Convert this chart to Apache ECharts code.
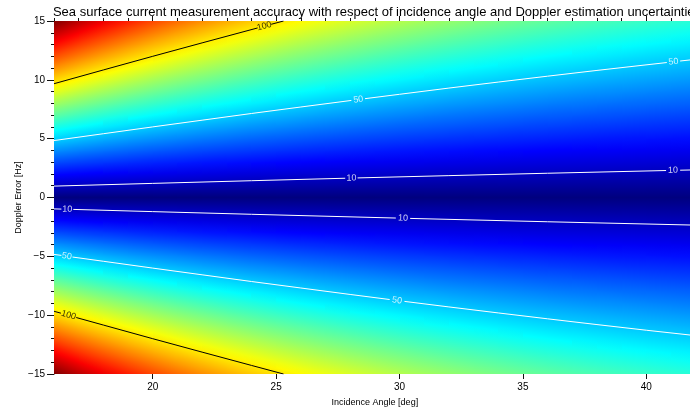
<!DOCTYPE html>
<html><head><meta charset="utf-8">
<script src="https://cdn.jsdelivr.net/npm/echarts@6/dist/echarts.min.js"></script>
<style>html,body{margin:0;padding:0;background:#fff}#c{width:690px;height:410px}</style>
</head><body><div id="c"></div>
<script>
// ---- data ----
const titleText = 'Sea surface current measurement accuracy with respect of incidence angle and Doppler estimation uncertainties';
const xName = 'Incidence Angle [deg]';
const yName = 'Doppler Error [Hz]';
const angleDeg = [16,17,18,19,20,21,22,23,24,25,26,27,28,29,30,31,32,33,34,35,36,37,38,39,40,41,42];
const dopplerHz = [-15,-14,-13,-12,-11,-10,-9,-8,-7,-6,-5,-4,-3,-2,-1,0,1,2,3,4,5,6,7,8,9,10,11,12,13,14,15];
const xMajorTicks = [20,25,30,35,40];
// accuracy values per |Doppler error| row (0..15 Hz), one value per incidence angle
const acc0  = [0,0,0,0,0,0,0,0,0,0,0,0,0,0,0,0,0,0,0,0,0,0,0,0,0,0,0];
const acc1  = [10.3,9.7,9.2,8.8,8.3,8.0,7.6,7.3,7.0,6.7,6.5,6.3,6.1,5.9,5.7,5.5,5.4,5.2,5.1,5.0,4.8,4.7,4.6,4.5,4.4,4.3,4.3];
const acc2  = [20.7,19.5,18.4,17.5,16.7,15.9,15.2,14.6,14.0,13.5,13.0,12.6,12.1,11.8,11.4,11.1,10.8,10.5,10.2,9.9,9.7,9.5,9.3,9.1,8.9,8.7,8.5];
const acc3  = [31.0,29.2,27.7,26.3,25.0,23.9,22.8,21.9,21.0,20.2,19.5,18.8,18.2,17.6,17.1,16.6,16.1,15.7,15.3,14.9,14.5,14.2,13.9,13.6,13.3,13.0,12.8];
const acc4  = [41.4,39.0,36.9,35.0,33.3,31.8,30.4,29.2,28.0,27.0,26.0,25.1,24.3,23.5,22.8,22.1,21.5,20.9,20.4,19.9,19.4,18.9,18.5,18.1,17.7,17.4,17.0];
const acc5  = [51.7,48.7,46.1,43.8,41.7,39.8,38.0,36.5,35.0,33.7,32.5,31.4,30.4,29.4,28.5,27.7,26.9,26.2,25.5,24.8,24.2,23.7,23.1,22.6,22.2,21.7,21.3];
const acc6  = [62.0,58.5,55.3,52.5,50.0,47.7,45.6,43.8,42.0,40.5,39.0,37.7,36.4,35.3,34.2,33.2,32.3,31.4,30.6,29.8,29.1,28.4,27.8,27.2,26.6,26.1,25.6];
const acc7  = [72.4,68.2,64.6,61.3,58.3,55.7,53.3,51.1,49.0,47.2,45.5,43.9,42.5,41.2,39.9,38.7,37.6,36.6,35.7,34.8,33.9,33.2,32.4,31.7,31.0,30.4,29.8];
const acc8  = [82.7,78.0,73.8,70.0,66.7,63.6,60.9,58.4,56.1,54.0,52.0,50.2,48.6,47.0,45.6,44.3,43.0,41.9,40.8,39.8,38.8,37.9,37.0,36.2,35.5,34.8,34.1];
const acc9  = [93.1,87.7,83.0,78.8,75.0,71.6,68.5,65.6,63.1,60.7,58.5,56.5,54.6,52.9,51.3,49.8,48.4,47.1,45.9,44.7,43.6,42.6,41.7,40.8,39.9,39.1,38.3];
const acc10 = [103.4,97.5,92.2,87.5,83.3,79.5,76.1,72.9,70.1,67.4,65.0,62.8,60.7,58.8,57.0,55.3,53.8,52.3,51.0,49.7,48.5,47.4,46.3,45.3,44.3,43.4,42.6];
const acc11 = [113.7,107.2,101.5,96.3,91.7,87.5,83.7,80.2,77.1,74.2,71.5,69.1,66.8,64.7,62.7,60.9,59.2,57.6,56.1,54.7,53.3,52.1,50.9,49.8,48.8,47.8,46.8];
const acc12 = [124.1,117.0,110.7,105.0,100.0,95.4,91.3,87.5,84.1,80.9,78.0,75.3,72.9,70.5,68.4,66.4,64.5,62.8,61.2,59.6,58.2,56.8,55.5,54.3,53.2,52.1,51.1];
const acc13 = [134.4,126.7,119.9,113.8,108.3,103.4,98.9,94.8,91.1,87.7,84.5,81.6,78.9,76.4,74.1,71.9,69.9,68.0,66.3,64.6,63.0,61.6,60.2,58.9,57.6,56.5,55.4];
const acc14 = [144.8,136.5,129.1,122.6,116.7,111.3,106.5,102.1,98.1,94.4,91.0,87.9,85.0,82.3,79.8,77.5,75.3,73.3,71.4,69.6,67.9,66.3,64.8,63.4,62.1,60.8,59.6];
const acc15 = [155.1,146.2,138.3,131.3,125.0,119.3,114.1,109.4,105.1,101.2,97.5,94.2,91.1,88.2,85.5,83.0,80.7,78.5,76.5,74.5,72.7,71.0,69.4,67.9,66.5,65.2,63.9];
const accByAbsDoppler = [acc0,acc1,acc2,acc3,acc4,acc5,acc6,acc7,acc8,acc9,acc10,acc11,acc12,acc13,acc14,acc15];

// contour polylines (angle, doppler), split where labels sit
const c100Top = [[[16,9.67],[18,10.84],[20,12.0],[22,13.14],[24.25,14.41]], [[24.8,14.72],[25.3,15.0]]];
const c100Bot = [[[16,-9.67],[16.28,-9.83]], [[16.9,-10.2],[18,-10.84],[20,-12.0],[22,-13.14],[24,-14.27],[25.3,-15.0]]];
const c50Top = [[[16,4.84],[18,5.42],[20,6.0],[22,6.57],[24,7.14],[26,7.69],[28.05,8.25]],
                [[28.6,8.4],[30,8.77],[32,9.3],[34,9.81],[36,10.31],[38,10.8],[40.83,11.47]],
                [[41.37,11.6],[42,11.74]]];
const c50Bot = [[[16,-4.84],[16.3,-4.92]],
                [[16.75,-5.06],[18,-5.42],[20,-6.0],[22,-6.57],[24,-7.14],[26,-7.69],[28,-8.24],[29.6,-8.67]],
                [[30.2,-8.83],[32,-9.3],[34,-9.81],[36,-10.31],[38,-10.8],[40,-11.28],[42,-11.74]]];
const c10Top = [[[16,0.967],[20,1.2],[24,1.427],[27.8,1.636]], [[28.3,1.664],[32,1.859],[36,2.062],[40.8,2.293]], [[41.37,2.319],[42,2.348]]];
const c10Bot = [[[16,-0.967],[16.3,-0.985]], [[16.78,-1.013],[20,-1.2],[24,-1.427],[29.85,-1.746]], [[30.43,-1.777],[36,-2.062],[42,-2.348]]];
const labelPos = [[24.52,14.56],[16.59,-10.0],[28.33,8.32],[41.1,11.53],[16.52,-4.99],[29.9,-8.75],[28.05,1.65],[41.08,2.31],[16.54,-1.0],[30.14,-1.76]];
const labelText = ['100','100','50','50','50','50','10','10','10','10'];
const labelRot = [15,-15.5,7,6,-8,-7,1,1,-1,-1];

// ---- build ----
const NC = angleDeg.length, NR = dopplerHz.length;
const cells = [];
dopplerHz.forEach(function (fd) {
  const row = accByAbsDoppler[Math.abs(fd)];
  angleDeg.forEach(function (a, i) { cells.push([a, fd, row[i]]); });
});

function lineSeries(segs, color) {
  return segs.map(function (s) {
    return { type: 'line', data: s, showSymbol: false, symbol: 'none', silent: true, animation: false, z: 5,
      lineStyle: { color: color, width: 1 }, xAxisIndex: 0, yAxisIndex: 0 };
  });
}

const chart = echarts.init(document.getElementById('c'), null, { renderer: 'canvas' });
const F = 'Liberation Sans, Arial, sans-serif';
const xCommon = { type: 'value', min: 16, max: 42, gridIndex: 0, splitLine: { show: false } };
const option = {
  animation: false,
  backgroundColor: '#fff',
  title: { text: titleText, left: 372, top: 1, textAlign: 'center',
    textStyle: { fontFamily: F, fontSize: 13, fontWeight: 'normal', color: '#000' } },
  grid: { left: 54, top: 21, width: 641.7, height: 353, containLabel: false, outerBoundsMode: 'none' },
  xAxis: [
    Object.assign({}, xCommon, { position: 'bottom', name: xName, nameLocation: 'middle', nameGap: 24,
      nameMoveOverlap: false,
      nameTextStyle: { fontFamily: F, fontSize: 9, color: '#000' },
      axisLine: { show: true, lineStyle: { color: '#111', width: 1 } },
      axisTick: { show: true, inside: false, length: 3, customValues: angleDeg, lineStyle: { color: '#111' } },
      axisLabel: { show: true, customValues: xMajorTicks, margin: 8, fontFamily: F, fontSize: 10, color: '#000' } }),
    Object.assign({}, xCommon, { position: 'bottom',
      axisLine: { show: false }, axisLabel: { show: false },
      axisTick: { show: true, inside: false, length: 5, customValues: xMajorTicks, lineStyle: { color: '#111' } } }),
    Object.assign({}, xCommon, { position: 'top',
      axisLine: { show: true, lineStyle: { color: '#111', width: 1 } }, axisLabel: { show: false },
      axisTick: { show: true, inside: false, length: 3, customValues: angleDeg, lineStyle: { color: '#111' } } }),
    Object.assign({}, xCommon, { position: 'top',
      axisLine: { show: false }, axisLabel: { show: false },
      axisTick: { show: true, inside: false, length: 5, customValues: xMajorTicks, lineStyle: { color: '#111' } } })
  ],
  yAxis: [{
    type: 'value', min: -15, max: 15, interval: 5, position: 'left',
    name: yName, nameLocation: 'middle', nameGap: 31, nameMoveOverlap: false,
    nameTextStyle: { fontFamily: F, fontSize: 9, color: '#000' },
    splitLine: { show: false },
    axisLine: { show: true, lineStyle: { color: '#111', width: 1 } },
    axisTick: { show: true, inside: false, length: 7, lineStyle: { color: '#111' } },
    minorTick: { show: true, splitNumber: 5, length: 3, lineStyle: { color: '#111' } },
    axisLabel: { margin: 9, fontFamily: F, fontSize: 10, color: '#000',
      formatter: function (v) { return v < 0 ? '\u2212' + Math.abs(v) : String(v); } }
  }],
  visualMap: {
    type: 'continuous', show: false, min: 0, max: 155, dimension: 2, seriesIndex: 0,
    inRange: { color: ['#00007f','#0000ff','#007fff','#00ffff','#7fff7f','#ffff00','#ff7f00','#ff0000','#7f0000'] }
  },
  series: [
    { type: 'custom', data: cells, silent: true, animation: false, z: 1,
      encode: { x: 0, y: 1 },
      renderItem: function (params, api) {
        const idx = params.dataIndex;
        const r = Math.floor(idx / NC), c = idx % NC;
        if (r >= NR - 1 || c >= NC - 1) return null;
        const ids = [idx, idx + 1, idx + NC, idx + NC + 1];
        const pts = ids.map(function (i) { return api.coord([api.value(0, i), api.value(1, i)]); });
        const vals = ids.map(function (i) { return api.value(2, i); });
        const cols = ids.map(function (i) { return api.visual('color', i); });
        const dx = pts[1][0] - pts[0][0], dy = pts[2][1] - pts[0][1];
        const gx = ((vals[1] - vals[0]) + (vals[3] - vals[2])) / 2 / dx;
        const gy = ((vals[2] - vals[0]) + (vals[3] - vals[1])) / 2 / dy;
        const gl = Math.sqrt(gx * gx + gy * gy);
        const xa = Math.round(Math.min(pts[0][0], pts[3][0])), xb = Math.round(Math.max(pts[0][0], pts[3][0]));
        const ya = Math.round(Math.min(pts[0][1], pts[3][1])), yb = Math.round(Math.max(pts[0][1], pts[3][1]));
        let fill = cols[0];
        if (gl > 1e-9) {
          const ux = gx / gl, uy = gy / gl;
          const t = pts.map(function (p) { return (p[0] - pts[0][0]) * ux + (p[1] - pts[0][1]) * uy; });
          const tmin = Math.min.apply(null, t), tmax = Math.max.apply(null, t);
          const stops = t.map(function (tv, k) { return { offset: (tv - tmin) / (tmax - tmin), color: cols[k] }; })
            .sort(function (a, b) { return a.offset - b.offset; });
          fill = new echarts.graphic.LinearGradient(
            pts[0][0] + ux * tmin, pts[0][1] + uy * tmin, pts[0][0] + ux * tmax, pts[0][1] + uy * tmax, stops, true);
        }
        return { type: 'rect', shape: { x: xa, y: ya, width: xb - xa, height: yb - ya }, style: { fill: fill } };
      } }
  ].concat(lineSeries(c100Top, '#000'), lineSeries(c100Bot, '#000'),
           lineSeries(c50Top, '#fff'), lineSeries(c50Bot, '#fff'),
           lineSeries(c10Top, '#fff'), lineSeries(c10Bot, '#fff'),
    [{ type: 'scatter', silent: true, animation: false, z: 6, symbolSize: 1, itemStyle: { color: 'rgba(0,0,0,0)' },
       data: labelPos.map(function (p, i) {
         return { value: [p[0], p[1], labelText[i]],
           label: { show: true, position: 'inside', rotate: labelRot[i], formatter: labelText[i],
             color: labelText[i] === '100' ? '#000' : '#fff', fontFamily: F, fontSize: 9 } };
       }) }])
};
chart.setOption(option);
</script></body></html>
